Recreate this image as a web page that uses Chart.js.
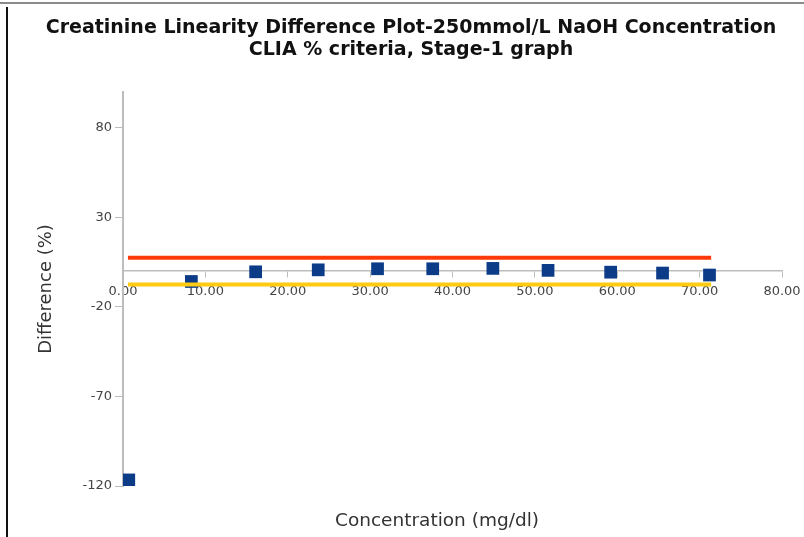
<!DOCTYPE html>
<html>
<head>
<meta charset="utf-8">
<title>Creatinine Linearity Difference Plot</title>
<script src="https://cdn.jsdelivr.net/npm/chart.js@4.4.1/dist/chart.umd.min.js"></script>
<style>
  body { margin: 0; background: #fff; }
  #wrap { position: relative; width: 804px; height: 537px; }
  #line-top { position: absolute; left: 0; top: 2px; width: 804px; height: 2px; background: #8a8a8a; }
  #line-left { position: absolute; left: 6px; top: 7px; width: 2px; height: 530px; background: #111; }
  canvas { position: absolute; left: 0; top: 0; }
</style>
</head>
<body>
<div id="wrap">
  <canvas id="plot" width="804" height="537"></canvas>
  <div id="line-top"></div>
  <div id="line-left"></div>
</div>
<script>
// measured points
var concentration = [0.7, 8.3, 16.1, 23.7, 30.9, 37.6, 44.9, 51.6, 59.2, 65.5, 71.2];
var differencePct = [-116.6, -5.8, -0.4, 0.7, 1.3, 1.3, 1.5, 0.4, -0.6, -1.1, -2.2];

// CLIA limits
var limitX = [0.6, 71.4];
var upperLimit = 7.5;
var lowerLimit = -7.5;

var yTicks = [-120, -70, -20, 30, 80];

var points = concentration.map(function (c, i) { return { x: c, y: differencePct[i] }; });
var upperLine = limitX.map(function (x) { return { x: x, y: upperLimit }; });
var lowerLine = limitX.map(function (x) { return { x: x, y: lowerLimit }; });

var tickFont = { family: 'DejaVu Sans', size: 13 };

// the x axis title sits a little left of the plot centre in the original
var shiftXTitle = {
    id: 'shiftXTitle',
    afterLayout: function (chart) {
        chart.scales.x2.left = chart.scales.x2.right - 690;
    }
};

var ctx = document.getElementById('plot').getContext('2d');
var chart = new Chart(ctx, {
    type: 'scatter',
    data: {
        datasets: [{
            type: 'line',
            label: 'Upper limit',
            data: upperLine,
            borderColor: '#ff3a0a',
            borderWidth: 4,
            pointRadius: 0,
            fill: false
        }, {
            type: 'line',
            label: 'Lower limit',
            data: lowerLine,
            borderColor: '#ffcc11',
            borderWidth: 4,
            pointRadius: 0,
            fill: false
        }, {
            label: 'Difference',
            data: points,
            pointStyle: 'rect',
            pointRadius: 9,
            pointHoverRadius: 9,
            backgroundColor: '#0c3c88',
            borderColor: '#0c3c88',
            borderWidth: 0
        }]
    },
    plugins: [shiftXTitle],
    options: {
        responsive: false,
        animation: false,
        layout: { padding: { left: 18, right: 0, top: 0, bottom: 0 } },
        plugins: {
            legend: { display: false },
            tooltip: { enabled: false },
            title: {
                display: true,
                text: ['Creatinine Linearity Difference Plot-250mmol/L NaOH Concentration',
                       'CLIA % criteria, Stage-1 graph'],
                color: '#111',
                font: { family: 'DejaVu Sans', size: 19, weight: 'bold', lineHeight: 22 / 19 },
                padding: { top: 17, bottom: 31 }
            }
        },
        scales: {
            x: {
                type: 'linear',
                min: 0,
                max: 80,
                position: { y: 0 },
                grid: { display: true, drawOnChartArea: false, drawTicks: true, tickLength: 6, color: '#bdbdbd' },
                border: { display: true, color: '#bdbdbd', width: 1.5 },
                ticks: {
                    stepSize: 10,
                    padding: 7,
                    color: '#444',
                    font: tickFont,
                    maxRotation: 0,
                    callback: function (v) { return v.toFixed(2); }
                },
                afterFit: function (scale) { scale.paddingRight = 22; }
            },
            x2: {
                type: 'linear',
                axis: 'x',
                min: 0,
                max: 80,
                position: 'bottom',
                grid: { display: false },
                border: { display: false },
                ticks: { display: false },
                title: {
                    display: true,
                    text: 'Concentration (mg/dl)',
                    color: '#333',
                    font: { family: 'DejaVu Sans', size: 18.5, lineHeight: 1.2 },
                    padding: { top: 0, bottom: 5 }
                },
                afterFit: function (scale) { scale.height = 51; }
            },
            y: {
                type: 'linear',
                min: -120,
                max: 100,
                position: 'left',
                grid: { display: true, drawOnChartArea: false, drawTicks: true, tickLength: 8, color: '#bdbdbd' },
                border: { display: true, color: '#bdbdbd', width: 2 },
                ticks: { padding: 3, color: '#444', font: tickFont },
                afterBuildTicks: function (scale) {
                    scale.ticks = yTicks.map(function (v) { return { value: v }; });
                },
                title: {
                    display: true,
                    text: 'Difference (%)',
                    color: '#333',
                    font: { family: 'DejaVu Sans', size: 18, lineHeight: 1.2 },
                    padding: { top: 18, bottom: 0 }
                },
                afterFit: function (scale) { scale.width = 105; }
            }
        }
    }
});
</script>
</body>
</html>
